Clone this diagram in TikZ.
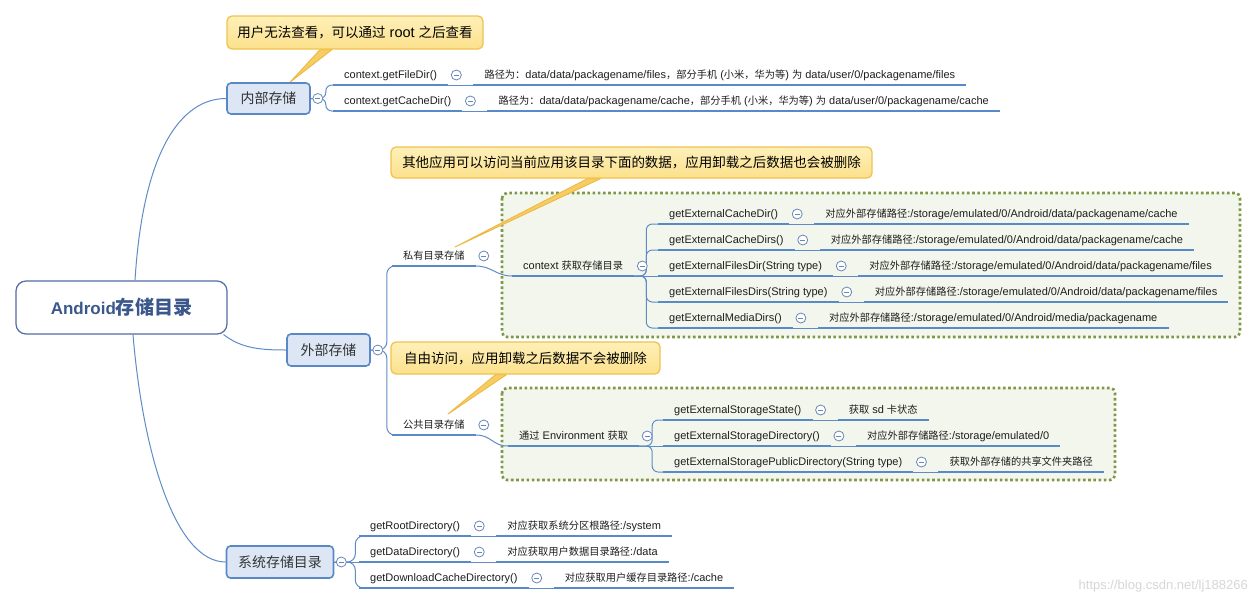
\documentclass[tikz,border=0pt]{standalone}
\usepackage{fontspec}
\setmainfont{Liberation Sans}
\newfontfamily\cjkfont[Scale=0.93]{Noto Sans CJK SC}
\newcommand\zh[1]{{\cjkfont #1}}
\usetikzlibrary{calc}
\newcommand\setfs[1]{\fontsize{#1}{#1}\selectfont}
\definecolor{ublue}{RGB}{88,138,200}
\definecolor{connc}{RGB}{95,140,200}
\definecolor{topf}{RGB}{220,230,245}
\definecolor{topd}{RGB}{90,135,198}
\definecolor{rootd}{RGB}{80,110,165}
\definecolor{roott}{RGB}{58,88,140}
\definecolor{collc}{RGB}{105,135,185}
\definecolor{callt}{RGB}{254,240,185}
\definecolor{callb}{RGB}{252,225,140}
\definecolor{callbd}{RGB}{240,195,80}
\definecolor{ptrf}{RGB}{246,205,100}
\definecolor{ptrd}{RGB}{238,185,65}
\definecolor{grpd}{RGB}{125,152,70}
\definecolor{grpf}{RGB}{243,246,236}
\definecolor{txtc}{RGB}{30,30,30}
\definecolor{wmc}{RGB}{215,215,215}
\pgfdeclarelayer{bg}
\pgfsetlayers{bg,main}
\begin{document}
\begin{tikzpicture}[x=1pt,y=-1pt,
  lab/.style={inner xsep=11pt, inner ysep=3.5pt, text height=8.5pt, text depth=2.5pt, anchor=south west, font=\setfs{11}, text=txtc},
  ulin/.style={draw=ublue, line width=2.6pt},
  conn/.style={draw=connc, line width=1pt},
  topic/.style={draw=topd, fill=topf, line width=1.6pt, rounded corners=4pt, font=\setfs{15}, text=black!80},
  rootbox/.style={draw=rootd, fill=white, line width=1.2pt, rounded corners=10pt, font=\bfseries\setfs{17}, text=roott},
  coll/.style={circle, draw=collc, fill=white, line width=0.8pt, minimum size=10pt, inner sep=0pt,
    path picture={\draw[collc, line width=0.8pt] ([xshift=2.5pt]path picture bounding box.west) -- ([xshift=-2.5pt]path picture bounding box.east);}},
  callbox/.style={draw=callbd, line width=1.3pt, rounded corners=5pt, top color=callt, bottom color=callb, font=\setfs{14.5}, text=black},
  ptr/.style={fill=ptrf, draw=ptrd, line width=0.9pt, line join=round},
  grp/.style={draw=grpd, fill=grpf, line width=2.6pt, dash pattern=on 2.6pt off 2.6pt, rounded corners=5pt}
]
\useasboundingbox (0,0) rectangle (1257,605);

% root and topics
\node[rootbox, minimum width=211pt, minimum height=53pt] (R) at (121.5,307.5) {Android{\setfs{20.5}\zh{存储目录}}};
\node[topic, minimum width=83pt, minimum height=31pt] (A) at (268.5,98.5) {\zh{内部存储}};
\node[topic, minimum width=83pt, minimum height=32pt] (B) at (328.5,350) {\zh{外部存储}};
\node[topic, minimum width=107pt, minimum height=32pt] (C) at (280,562) {\zh{系统存储目录}};

% internal storage
\node[lab] (a1) at (333,85) {context.getFileDir()};
\node[lab] (a1c) at ([xshift=25pt]a1.south east) {\zh{路径为：}data/data/packagename/files\zh{，部分手机} (\zh{小米，华为等}) \zh{为} data/user/0/packagename/files};
\node[lab] (a2) at (333,111) {context.getCacheDir()};
\node[lab] (a2c) at ([xshift=25pt]a2.south east) {\zh{路径为：}data/data/packagename/cache\zh{，部分手机} (\zh{小米，华为等}) \zh{为} data/user/0/packagename/cache};

% external storage: private
\node[lab] (b1) at (392,266) {\zh{私有目录存储}};
\node[lab] (b1c) at (512,276) {context \zh{获取存储目录}};
\node[lab] (e1) at (658,224) {getExternalCacheDir()};
\node[lab] (e1c) at ([xshift=25pt]e1.south east) {\zh{对应外部存储路径}:/storage/emulated/0/Android/data/packagename/cache};
\node[lab] (e2) at (658,250) {getExternalCacheDirs()};
\node[lab] (e2c) at ([xshift=25pt]e2.south east) {\zh{对应外部存储路径}:/storage/emulated/0/Android/data/packagename/cache};
\node[lab] (e3) at (658,276) {getExternalFilesDir(String type)};
\node[lab] (e3c) at ([xshift=25pt]e3.south east) {\zh{对应外部存储路径}:/storage/emulated/0/Android/data/packagename/files};
\node[lab] (e4) at (658,302) {getExternalFilesDirs(String type)};
\node[lab] (e4c) at ([xshift=25pt]e4.south east) {\zh{对应外部存储路径}:/storage/emulated/0/Android/data/packagename/files};
\node[lab] (e5) at (658,328) {getExternalMediaDirs()};
\node[lab] (e5c) at ([xshift=25pt]e5.south east) {\zh{对应外部存储路径}:/storage/emulated/0/Android/media/packagename};

% external storage: public
\node[lab] (b2) at (392,435) {\zh{公共目录存储}};
\node[lab] (b2c) at (508,446) {\zh{通过} Environment \zh{获取}};
\node[lab] (f1) at (663,420) {getExternalStorageState()};
\node[lab] (f1c) at ([xshift=25pt]f1.south east) {\zh{获取} sd \zh{卡状态}};
\node[lab] (f2) at (663,446) {getExternalStorageDirectory()};
\node[lab] (f2c) at ([xshift=25pt]f2.south east) {\zh{对应外部存储路径}:/storage/emulated/0};
\node[lab] (f3) at (663,472) {getExternalStoragePublicDirectory(String type)};
\node[lab] (f3c) at ([xshift=25pt]f3.south east) {\zh{获取外部存储的共享文件夹路径}};

% system storage
\node[lab] (c1) at (359,536) {getRootDirectory()};
\node[lab] (c1c) at ([xshift=25pt]c1.south east) {\zh{对应获取系统分区根路径}:/system};
\node[lab] (c2) at (359,562) {getDataDirectory()};
\node[lab] (c2c) at ([xshift=25pt]c2.south east) {\zh{对应获取用户数据目录路径}:/data};
\node[lab] (c3) at (359,588) {getDownloadCacheDirectory()};
\node[lab] (c3c) at ([xshift=25pt]c3.south east) {\zh{对应获取用户缓存目录路径}:/cache};

% callouts
\node[callbox, minimum width=256pt, minimum height=33pt] (N1) at (355,32.5) {\zh{用户无法查看，可以通过} root \zh{之后查看}};
\node[callbox, minimum width=481pt, minimum height=31pt] (N2) at (631.5,162.5) {\zh{其他应用可以访问当前应用该目录下面的数据，应用卸载之后数据也会被删除}};
\node[callbox, minimum width=269pt, minimum height=32pt] (N3) at (525.5,358) {\zh{自由访问，应用卸载之后数据不会被删除}};

% watermark
\node[anchor=east, text=wmc, font=\setfs{13}, inner sep=0pt] (wm) at (1248,586) {https://blog.csdn.net/lj188266};

\begin{pgfonlayer}{bg}
\fill[white] (0,0) rectangle (1257,605);
\draw[grp] (502,193) rectangle (1240,337);
\draw[grp] (502,388) rectangle (1115,480);
\filldraw[ptr] ([xshift=-35pt]N1.south) -- ([xshift=21.5pt]A.north) -- ([xshift=-23pt]N1.south) -- cycle;
\filldraw[ptr] ([xshift=-44pt]N2.south) -- ([shift={(63,-19)}]b1.south west) -- ([xshift=-31pt]N2.south) -- cycle;
\filldraw[ptr] ([xshift=-30pt]N3.south) -- ([shift={(56,-21)}]b2.south west) -- ([xshift=-19pt]N3.south) -- cycle;
\end{pgfonlayer}

% root connectors
\draw[conn] ([xshift=13.5pt]R.north) .. controls +(8,-130) and +(-45,0) .. (A.west);
\draw[conn] ([xshift=-4pt]R.south east) .. controls +(18,14) and +(-25,0) .. (B.west);
\draw[conn] ([xshift=11.5pt]R.south) .. controls +(10,120) and +(-50,0) .. (C.west);

% braces
\foreach \c in {a1,a2} \draw[conn, rounded corners=6pt] (A.east) -- ++(15,0) |- (\c.south west);
\foreach \c in {b1,b2} \draw[conn, rounded corners=8pt] (B.east) -- ++(16,0) |- (\c.south west);
\foreach \c in {c1,c3} \draw[conn, rounded corners=8pt] (C.east) -- ++(21,0) |- (\c.south west);
\draw[conn] (C.east) -- (c2.south west);
\foreach \c in {e1,e2,e4,e5} \draw[conn, rounded corners=6pt] (b1c.south east) -- ++(12,0) |- (\c.south west);
\draw[conn] (b1c.south east) -- (e3.south west);
\foreach \c in {f1,f3} \draw[conn, rounded corners=6pt] (b2c.south east) -- ++(13,0) |- (\c.south west);
\draw[conn] (b2c.south east) -- (f2.south west);
\draw[conn] (b1.south east) .. controls +(16,0) and +(-16,0) .. (b1c.south west);
\draw[conn] (b2.south east) .. controls +(16,0) and +(-16,0) .. (b2c.south west);
\foreach \p/\q in {a1/a1c,a2/a2c,e1/e1c,e2/e2c,e3/e3c,e4/e4c,e5/e5c,f1/f1c,f2/f2c,f3/f3c,c1/c1c,c2/c2c,c3/c3c}
  \draw[conn] (\p.south east) -- (\q.south west);

% underlines
\foreach \n in {a1,a1c,a2,a2c,b1,b1c,b2,b2c,e1,e1c,e2,e2c,e3,e3c,e4,e4c,e5,e5c,f1,f1c,f2,f2c,f3,f3c,c1,c1c,c2,c2c,c3,c3c}
  \draw[ulin] (\n.south west) -- (\n.south east);

% collapse markers
\node[coll] (kA) at ([xshift=7pt]A.east) {};
\node[coll] (kB) at ([xshift=7pt]B.east) {};
\node[coll] (kC) at ([xshift=7pt]C.east) {};
\foreach \p in {a1,a2,b1,b2,b1c,b2c,e1,e2,e3,e4,e5,f1,f2,f3,c1,c2,c3}
  \node[coll] (k\p) at ([shift={(8,-10)}]\p.south east) {};
\end{tikzpicture}
\end{document}
